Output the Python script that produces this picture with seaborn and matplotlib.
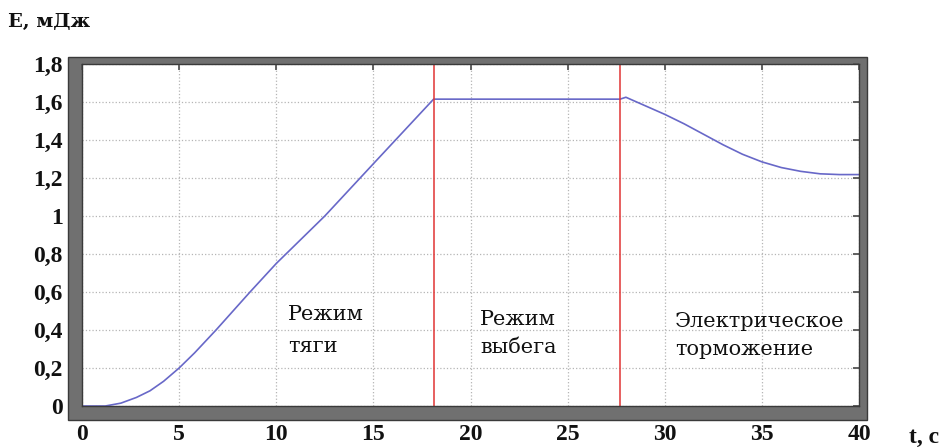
import matplotlib
matplotlib.use("Agg")
import matplotlib.pyplot as plt
from matplotlib.patches import Rectangle
import seaborn as sns
import numpy as np

# energy curve
t_sec = [0, 1.2, 2.0, 2.8, 3.5, 4.2, 5.0, 5.8, 6.9, 8.65, 10.0, 12.5, 15.0, 18.1,
         27.7, 28.0, 29.0, 30.0, 31.0, 32.0, 33.0, 34.0, 35.0, 36.0, 37.0, 38.0, 39.0, 40.0]
energy = [0, 0, 0.015, 0.045, 0.08, 0.13, 0.20, 0.28, 0.40, 0.60, 0.75, 1.00, 1.275, 1.615,
          1.615, 1.625, 1.58, 1.535, 1.485, 1.43, 1.375, 1.325, 1.285, 1.255, 1.235, 1.222, 1.218, 1.218]

mode_bounds = [18.1, 27.7]
# each label: (x, baseline of first line, baseline of second line, lines)
mode_labels = [
    (10.62, 0.453, 0.286, ["Режим", "тяги"]),
    (20.48, 0.426, 0.279, ["Режим", "выбега"]),
    (30.52, 0.417, 0.268, ["Электрическое", "торможение"]),
]

x_ticks = [0, 5, 10, 15, 20, 25, 30, 35, 40]
y_ticks = [0, 0.2, 0.4, 0.6, 0.8, 1.0, 1.2, 1.4, 1.6, 1.8]
y_ticklabels = ["0", "0,2", "0,4", "0,6", "0,8", "1", "1,2", "1,4", "1,6", "1,8"]

sns.set_theme(style="white")
plt.rcParams["font.family"] = ["Liberation Serif", "DejaVu Serif"]

W, H = 944, 448
fig = plt.figure(figsize=(W / 100, H / 100), dpi=100)
ax_l, ax_r, ax_t, ax_b = 82, 859, 64, 406
ax = fig.add_axes([ax_l / W, 1 - ax_b / H, (ax_r - ax_l) / W, (ax_b - ax_t) / H])
ax.set_zorder(2)

# grey 3D-like frame behind the axes
frame = Rectangle(((ax_l - 14) / W, 1 - (ax_b + 14) / H),
                  (ax_r - ax_l + 22) / W, (ax_b - ax_t + 21) / H,
                  transform=fig.transFigure, facecolor="#707070",
                  edgecolor="#3a3a3a", linewidth=1.0, zorder=0)
fig.patches.append(frame)

sns.lineplot(x=t_sec, y=energy, ax=ax, color="#6868c8", linewidth=1.2,
             estimator=None, sort=False)
for b in mode_bounds:
    ax.axvline(b, color="#e03434", linewidth=1.1)

for xx, y1, y2, lines in mode_labels:
    for yy, txt in zip((y1, y2), lines):
        ax.text(xx, yy, txt, fontsize=15, family="DejaVu Serif",
                ha="left", va="baseline", color="#111111")

ax.set_xlim(0, 40)
ax.set_ylim(0, 1.8)
ax.set_xticks(x_ticks)
ax.set_yticks(y_ticks)
ax.set_yticklabels(y_ticklabels)
ax.grid(True, linestyle=":", color="#b5b5b5", linewidth=0.9)
ax.tick_params(direction="in", length=4, width=1.3, color="#555555",
               top=True, right=True, labelsize=17, labelcolor="#111111")
ax.tick_params(axis="y", pad=14)
ax.tick_params(axis="x", pad=13)
for lab in ax.get_xticklabels() + ax.get_yticklabels():
    lab.set_fontweight("bold")
for s in ax.spines.values():
    s.set_color("#3a3a3a")
    s.set_linewidth(1.0)
ax.set_facecolor("white")

fig.text(8 / W, 1 - 27 / H, "E, мДж", fontsize=14, family="DejaVu Serif",
         fontweight="bold", ha="left", va="baseline", color="#111111")
fig.text(924 / W, 1 - 437 / H, "t, c", fontsize=17, fontweight="bold",
         ha="center", va="center", color="#111111")

fig.savefig("out.png", dpi=100)
